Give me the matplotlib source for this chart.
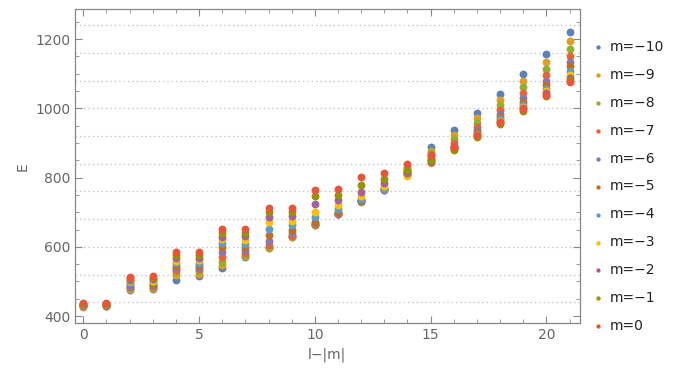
import matplotlib
matplotlib.use('Agg')
import matplotlib.pyplot as plt
from matplotlib.ticker import MultipleLocator

# l-|m| values
x = list(range(22))

# energies for each m
E_m10 = [430, 430, 474, 477, 505, 517, 540, 570, 596, 628, 662, 696, 733, 768, 830, 887, 937, 988, 1042, 1099, 1157, 1220]
E_m9 = [427, 428, 478, 481, 518, 522, 547, 573, 597, 629, 663, 695, 732, 767, 825, 877, 923, 972, 1024, 1080, 1134, 1195]
E_m8 = [429, 429, 481, 485, 526, 529, 557, 577, 600, 630, 664, 695, 731, 766, 820, 870, 911, 959, 1010, 1061, 1114, 1171]
E_m7 = [430, 430, 485, 488, 532, 535, 571, 583, 606, 632, 665, 696, 732, 765, 815, 864, 899, 946, 995, 1044, 1097, 1151]
E_m6 = [431, 431, 488, 491, 539, 541, 584, 590, 618, 639, 668, 698, 733, 765, 812, 858, 892, 937, 983, 1031, 1080, 1135]
E_m5 = [432, 432, 492, 494, 546, 547, 599, 599, 633, 649, 673, 701, 735, 766, 810, 853, 888, 931, 974, 1019, 1068, 1122]
E_m4 = [433, 433, 496, 498, 553, 554, 610, 609, 652, 662, 685, 709, 738, 768, 807, 848, 885, 927, 968, 1010, 1057, 1108]
E_m3 = [434, 434, 500, 502, 560, 563, 622, 619, 671, 675, 701, 721, 746, 776, 805, 841, 883, 924, 964, 1005, 1049, 1097]
E_m2 = [435, 435, 504, 506, 568, 569, 629, 631, 686, 689, 724, 735, 758, 784, 814, 845, 882, 921, 960, 1000, 1043, 1088]
E_m1 = [436, 436, 509, 510, 577, 576, 639, 641, 700, 701, 747, 751, 779, 795, 823, 851, 880, 918, 956, 992, 1036, 1082]
E_m0 = [438, 438, 514, 515, 586, 586, 651, 653, 712, 713, 764, 768, 803, 814, 839, 865, 889, 924, 962, 997, 1038, 1077]

labels = ['m=\u221210', 'm=\u22129', 'm=\u22128', 'm=\u22127', 'm=\u22126', 'm=\u22125',
          'm=\u22124', 'm=\u22123', 'm=\u22122', 'm=\u22121', 'm=0']

# gridlines at these energies
grid_E = [440, 520, 600, 680, 760, 840, 920, 1000, 1080, 1160, 1240]

# Mathematica default colours
colors = ['#5E81B5', '#E19C24', '#8FB032', '#EB6235', '#8778B3', '#C56E1A',
          '#5D9EC7', '#FFBF00', '#A5609D', '#929600', '#E95536']

series = [E_m10, E_m9, E_m8, E_m7, E_m6, E_m5, E_m4, E_m3, E_m2, E_m1, E_m0]

fig = plt.figure(figsize=(6.85, 3.76), dpi=100)
ax = fig.add_axes([0.1095, 0.14, 0.7365, 0.836])

for ys, c, lab in zip(series, colors, labels):
    ax.scatter(x, ys, s=32, color=c, label=lab, linewidths=0, zorder=3)

for g in grid_E:
    ax.axhline(g, color='#bbbbbb', lw=0.9, ls=(0, (1, 2.5)), zorder=1)

ax.set_xlim(-0.36, 21.43)
ax.set_ylim(379, 1287)

ax.xaxis.set_major_locator(MultipleLocator(5))
ax.xaxis.set_minor_locator(MultipleLocator(1))
ax.yaxis.set_major_locator(MultipleLocator(200))
ax.yaxis.set_minor_locator(MultipleLocator(50))
ax.tick_params(which='both', direction='in', top=True, right=True, color='#888888',
               labelcolor='#666666', labelsize=10)
ax.tick_params(which='major', length=5, width=0.8)
ax.tick_params(which='minor', length=3, width=0.6)
for sp in ax.spines.values():
    sp.set_color('#888888')
    sp.set_linewidth(0.9)

ax.set_xlabel('l\u2212|m|', color='#666666', fontsize=10)
ax.set_ylabel('E', color='#666666', fontsize=10)

fig.legend(loc='upper left', bbox_to_anchor=(0.845, 0.927), frameon=False,
           markerscale=0.55, handletextpad=0.35, labelspacing=1.0, fontsize=10,
           labelcolor='#222222', handlelength=1.0)

fig.savefig('out.png', dpi=100)
